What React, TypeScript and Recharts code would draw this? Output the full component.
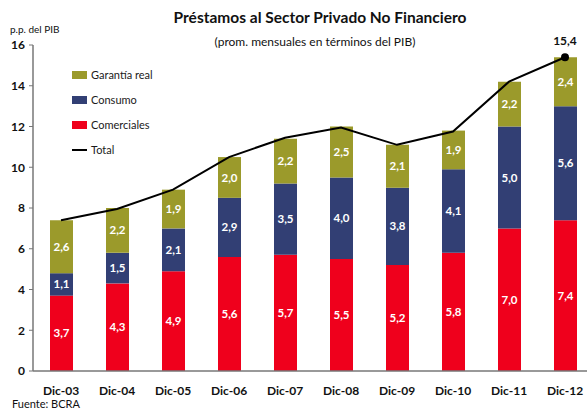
import { Bar, ComposedChart, LabelList, Legend, Line, XAxis, YAxis } from "recharts";

const categories = ["Dic-03", "Dic-04", "Dic-05", "Dic-06", "Dic-07", "Dic-08", "Dic-09", "Dic-10", "Dic-11", "Dic-12"];
const comerciales = [3.7, 4.3, 4.9, 5.6, 5.7, 5.5, 5.2, 5.8, 7.0, 7.4];
const consumo = [1.1, 1.5, 2.1, 2.9, 3.5, 4.0, 3.8, 4.1, 5.0, 5.6];
const garantia = [2.6, 2.2, 1.9, 2.0, 2.2, 2.5, 2.1, 1.9, 2.2, 2.4];
const total = [7.4, 7.95, 8.9, 10.5, 11.45, 11.95, 11.1, 11.75, 14.2, 15.4];
const yTicks = [0, 2, 4, 6, 8, 10, 12, 14, 16];

const data = categories.map((cat, i) => ({
  cat,
  comerciales: comerciales[i],
  consumo: consumo[i],
  garantia: garantia[i],
  total: total[i],
}));

const FONT = "Lato, 'DejaVu Sans', sans-serif";
const RED = "#ef001c";
const BLUE = "#323f74";
const OLIVE = "#9b9a2b";

const fmt = (v: any) => Number(v).toFixed(1).replace(".", ",");

const legendItems = [
  { label: "Garantía real", color: OLIVE, kind: "box" },
  { label: "Consumo", color: BLUE, kind: "box" },
  { label: "Comerciales", color: RED, kind: "box" },
  { label: "Total", color: "#000", kind: "line" },
];

function LegendBox() {
  return (
    <div style={{ fontFamily: FONT, fontSize: 11, color: "#1a1a1a" }}>
      {legendItems.map((it) => (
        <div key={it.label} style={{ display: "flex", alignItems: "center", height: 25 }}>
          <span style={{ width: 15, height: it.kind === "box" ? 8 : 2, background: it.color, marginRight: 4 }} />
          <span>{it.label}</span>
        </div>
      ))}
    </div>
  );
}

const barLabel = { fill: "#fff", fontSize: 11.5, fontWeight: 700, fontFamily: FONT };

export default function App() {
  const last = data.length - 1;
  return (
    <div style={{ position: "absolute", left: 0, top: 0, width: 587, height: 411, overflow: "hidden", background: "#fff", fontFamily: FONT }}>
      <div style={{ position: "absolute", left: 120, width: 400, top: 8, textAlign: "center", fontSize: 15.5, fontWeight: 700, color: "#111" }}>
        Préstamos al Sector Privado No Financiero
      </div>
      <div style={{ position: "absolute", left: 115, width: 400, top: 34, textAlign: "center", fontSize: 12, color: "#111" }}>
        (prom. mensuales en términos del PIB)
      </div>
      <div style={{ position: "absolute", left: 10, top: 23, fontSize: 10, color: "#111" }}>p.p. del PIB</div>
      <div style={{ position: "absolute", left: 12, top: 397, fontSize: 11, lineHeight: "13px", color: "#111" }}>Fuente: BCRA</div>
      <ComposedChart width={600} height={411} data={data} margin={{ top: 45, right: 7, bottom: 0, left: 0 }}>
        <XAxis
          dataKey="cat"
          height={40}
          tickLine={false}
          tickSize={0}
          tickMargin={15}
          axisLine={{ stroke: "#777", strokeWidth: 1.5 }}
          tick={{ fill: "#111", fontSize: 12, fontWeight: 700, fontFamily: FONT }}
        />
        <YAxis
          width={33}
          domain={[0, 16]}
          ticks={yTicks}
          interval={0}
          tickSize={4}
          tickMargin={4}
          axisLine={{ stroke: "#777", strokeWidth: 1.5 }}
          tickLine={{ stroke: "#777" }}
          tick={{ fill: "#111", fontSize: 12, fontWeight: 700, fontFamily: FONT }}
        />
        <Legend
          layout="horizontal"
          verticalAlign="middle"
          align="center"
          wrapperStyle={{ top: 62, left: 72, width: 150 }}
          content={() => <LegendBox />}
        />
        <Bar dataKey="comerciales" stackId="a" fill={RED} barSize={23} isAnimationActive={false}>
          <LabelList dataKey="comerciales" position="center" formatter={fmt} style={barLabel} />
        </Bar>
        <Bar dataKey="consumo" stackId="a" fill={BLUE} barSize={23} isAnimationActive={false}>
          <LabelList dataKey="consumo" position="center" formatter={fmt} style={barLabel} />
        </Bar>
        <Bar dataKey="garantia" stackId="a" fill={OLIVE} barSize={23} isAnimationActive={false}>
          <LabelList dataKey="garantia" position="center" formatter={fmt} style={barLabel} />
        </Bar>
        <Line
          type="linear"
          dataKey="total"
          stroke="#000"
          strokeWidth={2}
          isAnimationActive={false}
          dot={(p: any) =>
            p.index === last ? (
              <circle key={p.index} cx={p.cx} cy={p.cy} r={4} fill="#000" />
            ) : (
              <g key={p.index} />
            )
          }
          label={(p: any) =>
            p.index === last ? (
              <text key={p.index} x={p.x} y={p.y - 12} textAnchor="middle" fontSize={12} fontWeight={700} fontFamily={FONT} fill="#111">
                {fmt(p.value)}
              </text>
            ) : (
              <g key={p.index} />
            )
          }
        />
      </ComposedChart>
    </div>
  );
}
